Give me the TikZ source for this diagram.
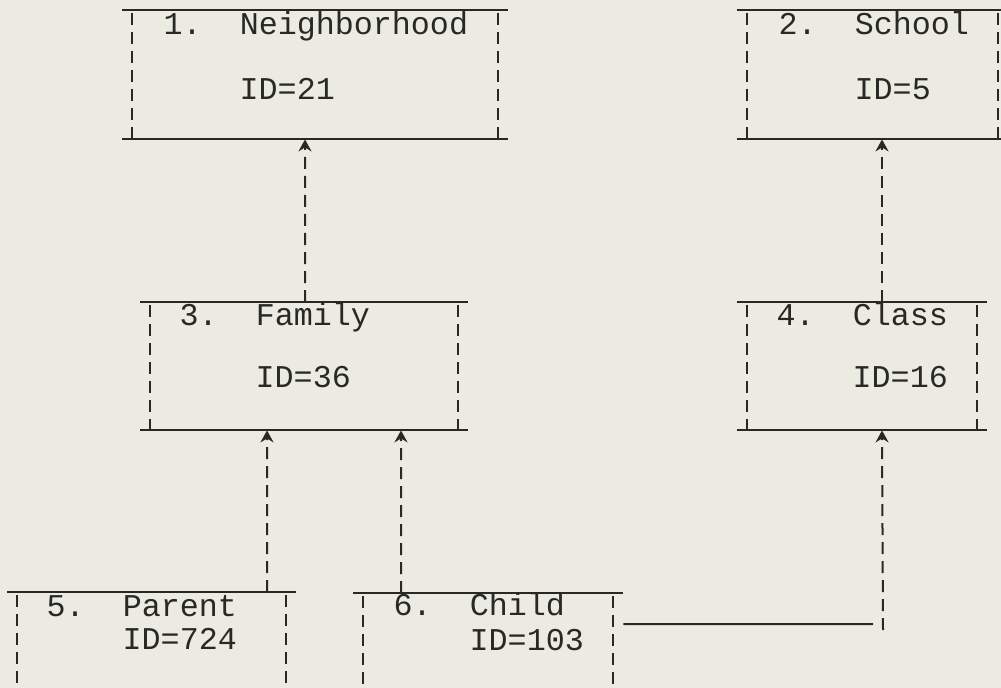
\documentclass[tikz,border=0pt]{standalone}
\usepackage{fontspec}
\setmainfont{Liberation Mono}
\usetikzlibrary{arrows.meta}
\definecolor{bgc}{RGB}{236,235,225}
\definecolor{ink}{RGB}{40,40,38}
\begin{document}
\begin{tikzpicture}[x=1bp,y=-1bp,
  frame/.style={rectangle,inner sep=0pt,draw=none,anchor=north west},
  rule/.style={draw=ink,line width=2bp},
  dline/.style={draw=ink,line width=2bp,dash pattern=on 12bp off 7bp},
  tip/.style={-{Stealth[length=12bp,width=13bp,inset=4bp]}},
  lbl/.style={anchor=base west,inner sep=0pt,text=ink,font=\fontsize{31.7bp}{38bp}\selectfont}]
\fill[bgc] (0,0) rectangle (1001,688);
\useasboundingbox (0,0) rectangle (1001,688);
% frames
\node[frame,minimum width=366bp,minimum height=129bp] (b1) at (132,10) {};
\node[frame,minimum width=251bp,minimum height=129bp] (b2) at (747,10) {};
\node[frame,minimum width=308bp,minimum height=128bp] (b3) at (150,302) {};
\node[frame,minimum width=230bp,minimum height=128bp] (b4) at (747,302) {};
\node[frame,minimum width=269bp,minimum height=140bp] (b5) at (17,592) {};
\node[frame,minimum width=250bp,minimum height=140bp] (b6) at (363,593) {};
\foreach \n in {b1,b2,b3,b4,b5,b6}{
  \draw[rule] ([xshift=-10bp]\n.north west) -- ([xshift=10bp]\n.north east);
  \draw[rule] ([xshift=-10bp]\n.south west) -- ([xshift=10bp]\n.south east);
  \draw[dline] ([yshift=-3bp]\n.north west) -- (\n.south west);
  \draw[dline] ([yshift=-3bp]\n.north east) -- (\n.south east);
}
% texts
\node[lbl] (t1) at (163.5,35) {1.~~Neighborhood};
\node[lbl] (i1) at (239.5,100) {ID=21};
\node[lbl] (t2) at (778.5,35) {2.~~School};
\node[lbl] (i2) at (854.5,100) {ID=5};
\node[lbl] (t3) at (179.5,325) {3.~~Family};
\node[lbl] (i3) at (255.5,387) {ID=36};
\node[lbl] (t4) at (776.5,325) {4.~~Class};
\node[lbl] (i4) at (852.5,387) {ID=16};
\node[lbl] (t5) at (46.5,616) {5.~~Parent};
\node[lbl] (i5) at (122.5,649) {ID=724};
\node[lbl] (t6) at (393.5,615) {6.~~Child};
\node[lbl] (i6) at (469.5,650) {ID=103};
% connectors
\draw[dline,tip] ([xshift=155bp]b3.north west) -- ([xshift=173bp]b1.south west);
\draw[dline,tip] ([xshift=135bp]b4.north west) -- ([xshift=135bp]b2.south west);
\draw[dline,tip] ([xshift=250bp]b5.north west) -- ([xshift=117bp]b3.south west);
\draw[dline,tip] ([xshift=38bp]b6.north west) -- ([xshift=251bp]b3.south west);
\coordinate (c1) at (883,624);
\draw[rule] ([xshift=10bp,yshift=-31bp]b6.north east) -- ([xshift=-10bp]c1);
\draw[dline,tip] ([yshift=-6bp]c1) -- ([xshift=135bp]b4.south west);
\end{tikzpicture}
\end{document}
